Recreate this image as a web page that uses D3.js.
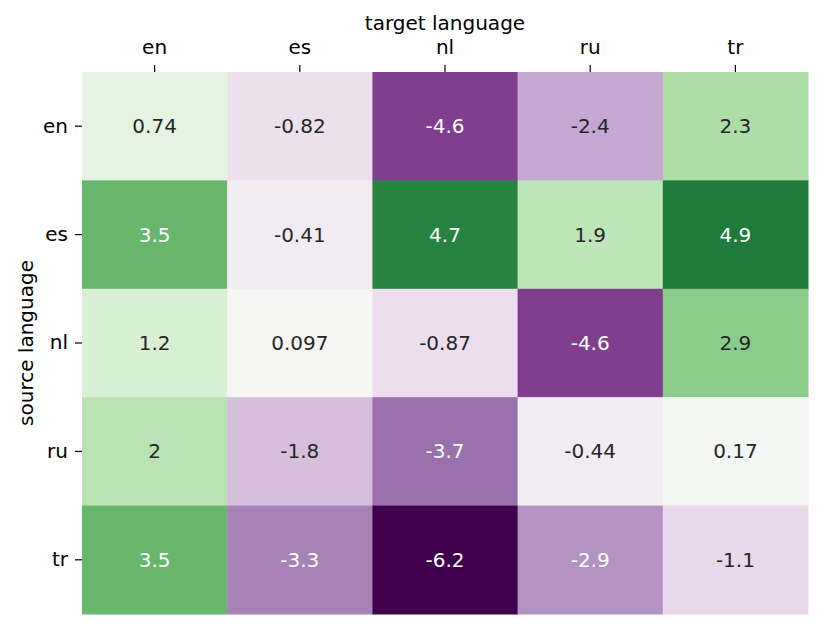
<!DOCTYPE html>
<html><head><meta charset="utf-8">
<script src="https://cdn.jsdelivr.net/npm/d3@7"></script>
<style>body{margin:0;background:#fff}svg{display:block}text{font-family:"DejaVu Sans",sans-serif}</style>
</head><body><svg id="c" width="831" height="636"></svg>
<script>
const targets = ["en","es","nl","ru","tr"];
const sources = ["en","es","nl","ru","tr"];
const values = [
  [0.74, -0.82, -4.6, -2.4, 2.3],
  [3.5, -0.41, 4.7, 1.9, 4.9],
  [1.2, 0.097, -0.87, -4.6, 2.9],
  [2, -1.8, -3.7, -0.44, 0.17],
  [3.5, -3.3, -6.2, -2.9, -1.1]
];
const labels = [
  ["0.74","-0.82","-4.6","-2.4","2.3"],
  ["3.5","-0.41","4.7","1.9","4.9"],
  ["1.2","0.097","-0.87","-4.6","2.9"],
  ["2","-1.8","-3.7","-0.44","0.17"],
  ["3.5","-3.3","-6.2","-2.9","-1.1"]
];
const prgn = ["#40004b","#762a83","#9970ab","#c2a5cf","#e7d4e8","#f7f7f7","#d9f0d3","#a6dba0","#5aae61","#1b7837","#00441b"];

const svg = d3.select("#c");
const mLeft = 82, mRight = 808, mTop = 72, mBottom = 614;
const fs = 20;
const x = d3.scaleBand().domain(targets).range([mLeft, mRight]);
const y = d3.scaleBand().domain(sources).range([mTop, mBottom]);
const vr = 6.2;
const color = d3.scaleLinear().domain(d3.range(11).map(i => -vr + i * 2 * vr / 10)).range(prgn).interpolate(d3.interpolateRgb).clamp(true);

const cells = [];
sources.forEach((s, i) => targets.forEach((t, j) => cells.push({s, t, v: values[i][j], l: labels[i][j]})));

svg.selectAll("rect.cell").data(cells).join("rect").attr("class","cell")
  .attr("x", d => x(d.t)).attr("y", d => y(d.s))
  .attr("width", x.bandwidth() + 0.5).attr("height", y.bandwidth() + 0.5)
  .attr("fill", d => color(d.v));

function lum(c){
  const r = d3.rgb(c);
  const f = v => { v /= 255; return v <= 0.03928 ? v/12.92 : Math.pow((v+0.055)/1.055, 2.4); };
  return 0.2126*f(r.r) + 0.7152*f(r.g) + 0.0722*f(r.b);
}
svg.selectAll("text.ann").data(cells).join("text").attr("class","ann")
  .attr("x", d => x(d.t) + x.bandwidth()/2).attr("y", d => y(d.s) + y.bandwidth()/2)
  .attr("text-anchor","middle").attr("dominant-baseline","central")
  .attr("font-size", fs)
  .attr("fill", d => lum(color(d.v)) > 0.408 ? "#262626" : "#ffffff")
  .text(d => d.l);

const xAxis = d3.axisTop(x).tickSize(7).tickPadding(11);
const gx = svg.append("g").attr("transform", `translate(0,${mTop})`).call(xAxis);
const yAxis = d3.axisLeft(y).tickSize(7).tickPadding(7);
const gy = svg.append("g").attr("transform", `translate(${mLeft},0)`).call(yAxis);
[gx, gy].forEach(g => {
  g.select(".domain").remove();
  g.selectAll(".tick line").attr("stroke","#000").attr("stroke-width",1.2);
  g.selectAll(".tick text").attr("font-size",fs).attr("fill","#000").attr("font-family","DejaVu Sans");
});

svg.append("text").attr("x", (mLeft+mRight)/2).attr("y", 29.5).attr("text-anchor","middle")
  .attr("font-size",fs).attr("fill","#000").text("target language");
svg.append("text").attr("transform", `translate(33,${(mTop+mBottom)/2}) rotate(-90)`).attr("text-anchor","middle")
  .attr("font-size",fs).attr("fill","#000").text("source language");
</script></body></html>
